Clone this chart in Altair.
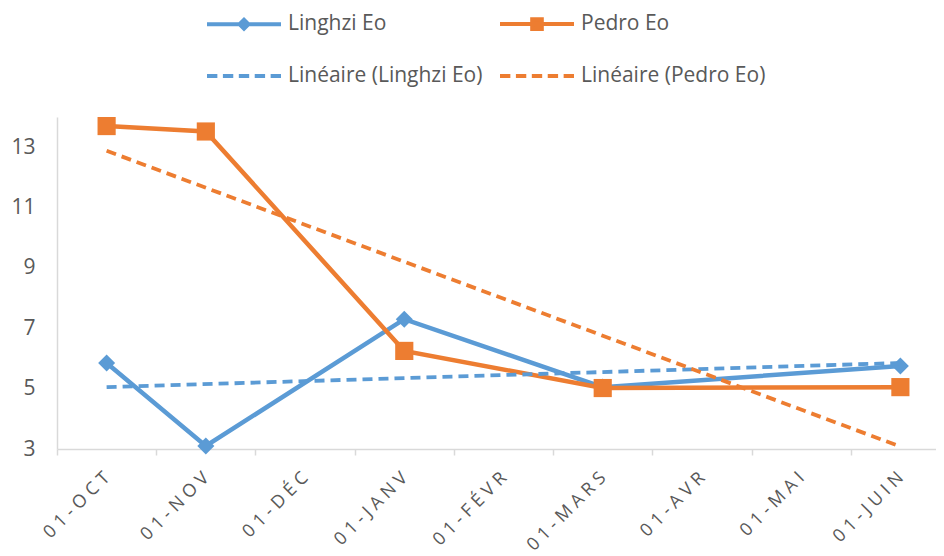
import altair as alt
import pandas as pd

# ---- data ----
months = ["01-OCT", "01-NOV", "01-DÉC", "01-JANV", "01-FÉVR", "01-MARS", "01-AVR", "01-MAI", "01-JUIN"]
data_months = ["01-OCT", "01-NOV", "01-JANV", "01-MARS", "01-JUIN"]
linghzi = [5.85, 3.1, 7.3, 5.05, 5.75]
pedro = [13.7, 13.52, 6.25, 5.02, 5.05]
trend_months = ["01-OCT", "01-JUIN"]
trend_linghzi = [5.05, 5.85]
trend_pedro = [12.88, 3.08]
series_names = ["Linghzi Eo", "Pedro Eo"]
legend_names = ["Linghzi Eo", "Pedro Eo", "Linéaire (Linghzi Eo)", "Linéaire (Pedro Eo)"]
y_ticks = [3, 5, 7, 9, 11, 13]

BLUE = "#5B9BD5"
ORANGE = "#ED7D31"
TEXT = "#595959"
AXIS = "#D9D9D9"
FONT = "Open Sans"

actual = pd.DataFrame(
    {"month": data_months * 2,
     "series": [series_names[0]] * len(linghzi) + [series_names[1]] * len(pedro),
     "value": linghzi + pedro}
)
trend = pd.DataFrame(
    {"month": trend_months * 2,
     "series": [series_names[0]] * 2 + [series_names[1]] * 2,
     "value": trend_linghzi + trend_pedro}
)
legend_df = pd.DataFrame({"entry": legend_names})

x_enc = alt.X(
    "month:N", sort=months, bandPosition=0.5,
    scale=alt.Scale(type="band", domain=months, paddingInner=0, paddingOuter=0, round=False),
    axis=alt.Axis(
        title=None, grid=False, domainColor=AXIS, domainWidth=1.5,
        tickColor=AXIS, tickWidth=1.5, tickSize=6, tickBand="extent",
        labelAngle=-45, labelAlign="right", labelBaseline="middle",
        labelOffset=0, labelPadding=20, labelFont=FONT, labelFontSize=18,
        labelColor=TEXT, labelExpr="join(split(datum.label, ''), ' ')",
        labelOverlap=False, labelBound=False,
    ),
)
y_enc = alt.Y(
    "value:Q",
    scale=alt.Scale(domain=[3, 14], nice=False, zero=False),
    axis=alt.Axis(
        title=None, grid=False, values=y_ticks, ticks=False, tickSize=0,
        domainColor=AXIS, domainWidth=1.5, labelPadding=22,
        labelFont=FONT, labelFontSize=21, labelColor=TEXT,
    ),
)
color_enc = alt.Color("series:N", scale=alt.Scale(domain=series_names, range=[BLUE, ORANGE]), legend=None)

lines = alt.Chart(actual).mark_line(strokeWidth=4.5).encode(x=x_enc, y=y_enc, color=color_enc)

diamonds = alt.Chart(actual).transform_filter(
    alt.datum.series == series_names[0]
).mark_point(shape="diamond", filled=True, size=290, opacity=1).encode(x=x_enc, y=y_enc, color=color_enc)

squares = alt.Chart(actual).transform_filter(
    alt.datum.series == series_names[1]
).mark_point(shape="square", filled=True, size=330, opacity=1).encode(x=x_enc, y=y_enc, color=color_enc)

trends = alt.Chart(trend).mark_line(strokeWidth=3.8, strokeDash=[10, 6]).encode(x=x_enc, y=y_enc, color=color_enc)

# legend carrier (no marks drawn; legend built from explicit scale domains)
legend_colors = [BLUE, ORANGE, BLUE, ORANGE]
legend_paths = [
    "M-1,0L1,0M-0.12,0L0,-0.12L0.12,0L0,0.12Z",
    "M-1,0L1,0M-0.13,-0.13L0.13,-0.13L0.13,0.13L-0.13,0.13Z",
    "M-1,0L-0.72,0M-0.57,0L-0.29,0M-0.14,0L0.14,0M0.29,0L0.57,0M0.72,0L1,0",
    "M-1,0L-0.72,0M-0.57,0L-0.29,0M-0.14,0L0.14,0M0.29,0L0.57,0M0.72,0L1,0",
]


def make_legend():
    return alt.Legend(
        title=None, orient="none", legendX=148, legendY=-132, columns=2,
        direction="horizontal",
        labelFont=FONT, labelFontSize=21, labelColor=TEXT, labelOffset=5,
        labelLimit=400, symbolSize=5476, symbolStrokeWidth=4,
        columnPadding=9, rowPadding=-9, padding=0,
    )


legend_layer = alt.Chart(legend_df).transform_filter("false").mark_point(
    filled=True, opacity=1, strokeWidth=4, size=5476
).encode(
    fill=alt.Fill("entry:N", scale=alt.Scale(domain=legend_names, range=legend_colors), legend=make_legend()),
    stroke=alt.Stroke("entry:N", scale=alt.Scale(domain=legend_names, range=legend_colors), legend=make_legend()),
    shape=alt.Shape("entry:N", scale=alt.Scale(domain=legend_names, range=legend_paths), legend=make_legend()),
)

chart = alt.layer(lines, diamonds, squares, trends, legend_layer).properties(
    width=893, height=332,
    autosize=alt.AutoSizeParams(type="none"),
    padding={"left": 49, "top": 109, "right": -14, "bottom": 104},
).configure_view(stroke=None)

chart.save("out.html", embed_options={"renderer": "svg", "actions": False})
